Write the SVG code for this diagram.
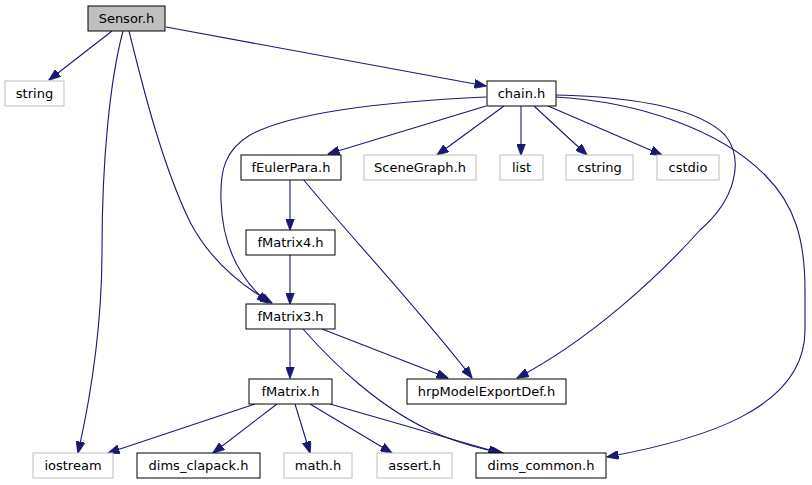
<svg xmlns="http://www.w3.org/2000/svg" width="812" height="485" viewBox="0 0 812 485">
<style>
.n rect{fill:#fff;stroke:#000;stroke-width:1}
.g rect{fill:#fff;stroke:#bfbfbf;stroke-width:1}
.n text,.g text{font-family:"DejaVu Sans",sans-serif;font-size:13px;fill:#000;text-anchor:middle}
#edges path{fill:none;stroke:#191970;stroke-width:1.1;marker-end:url(#a)}
</style>
<defs>
<marker id="a" viewBox="0 0 12 9" refX="11.5" refY="4.5" markerWidth="12" markerHeight="9" markerUnits="userSpaceOnUse" orient="auto">
<path d="M0,0 L12,4.5 L0,9 z" fill="#191970" stroke="#191970" stroke-width="0.8"/>
</marker>
</defs>
<rect width="812" height="485" fill="#fff"/>
<g id="edges">
<path d="M112,31 L49,80"/>
<path d="M166,27 L486,86"/>
<path d="M123,31 C110,80 102,160 102,250 C102,330 90,400 78,453"/>
<path d="M129,31 C140,75 160,160 190,222 C210,260 240,285 272,303"/>
<path d="M486,106 L328,154"/>
<path d="M504,106 L437,155"/>
<path d="M521,106 L521,155"/>
<path d="M534,106 L587,155"/>
<path d="M548,106 L662,155"/>
<path d="M486,97 C420,100 300,108 250,135 C225,150 220,170 221,200 C222,240 235,275 268,303"/>
<path d="M556,95 C640,97 700,110 725,135 C745,160 735,200 700,230 C660,275 590,340 517,378"/>
<path d="M556,97 C640,102 720,130 765,175 C795,205 805,240 805,290 L805,330 C805,410 700,440 607,457"/>
<path d="M290,179 L290,230"/>
<path d="M303,179 C340,225 420,310 472,378"/>
<path d="M290,255 L290,304"/>
<path d="M290,329 L290,378"/>
<path d="M322,329 L448,378"/>
<path d="M303,329 C330,360 380,410 440,435 C465,445 485,450 503,453"/>
<path d="M255,404 L108,453"/>
<path d="M277,404 L213,453"/>
<path d="M295,404 L310,453"/>
<path d="M310,404 L392,453"/>
<path d="M330,404 L500,453"/>
</g>
<g id="sensor" class="n"><rect x="88" y="6" width="77" height="25" style="fill:#bfbfbf"/><text x="126.5" y="23">Sensor.h</text></g>
<g id="string" class="g"><rect x="5" y="81" width="59" height="25"/><text x="34.5" y="98">string</text></g>
<g id="chain" class="n"><rect x="487" y="81" width="69" height="25"/><text x="521.5" y="98">chain.h</text></g>
<g id="feulerpara" class="n"><rect x="241" y="155" width="100" height="25"/><text x="291" y="172">fEulerPara.h</text></g>
<g id="scenegraph" class="g"><rect x="364" y="155" width="112" height="25"/><text x="420" y="172">SceneGraph.h</text></g>
<g id="list" class="g"><rect x="500" y="155" width="43" height="25"/><text x="521.5" y="172">list</text></g>
<g id="cstring" class="g"><rect x="566" y="155" width="67" height="25"/><text x="599.5" y="172">cstring</text></g>
<g id="cstdio" class="g"><rect x="657" y="155" width="62" height="25"/><text x="688" y="172">cstdio</text></g>
<g id="fmatrix4" class="n"><rect x="246" y="230" width="89" height="25"/><text x="290.5" y="247">fMatrix4.h</text></g>
<g id="fmatrix3" class="n"><rect x="246" y="304" width="89" height="25"/><text x="290.5" y="321">fMatrix3.h</text></g>
<g id="fmatrix" class="n"><rect x="249" y="379" width="83" height="25"/><text x="290.5" y="396">fMatrix.h</text></g>
<g id="hrpmodel" class="n"><rect x="407" y="379" width="159" height="25"/><text x="486.5" y="396">hrpModelExportDef.h</text></g>
<g id="iostream" class="g"><rect x="33" y="453" width="80" height="25"/><text x="73" y="470">iostream</text></g>
<g id="dimsclapack" class="n"><rect x="137" y="453" width="123" height="25"/><text x="198.5" y="470">dims_clapack.h</text></g>
<g id="math" class="g"><rect x="284" y="453" width="68" height="25"/><text x="318" y="470">math.h</text></g>
<g id="assert" class="g"><rect x="377" y="453" width="75" height="25"/><text x="414.5" y="470">assert.h</text></g>
<g id="dimscommon" class="n"><rect x="476" y="453" width="130" height="25"/><text x="541" y="470">dims_common.h</text></g>
</svg>
